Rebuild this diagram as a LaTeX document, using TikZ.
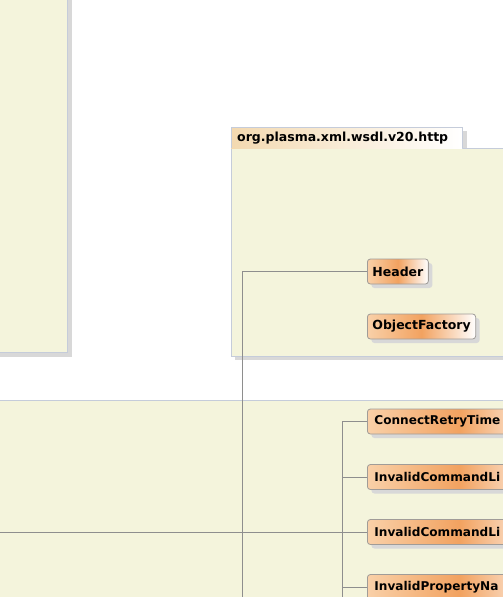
\documentclass[tikz,border=0pt]{standalone}
\usepackage{fontspec}
\setmainfont{DejaVu Sans}
\definecolor{cream}{HTML}{F4F4DC}
\definecolor{pkgborder}{HTML}{C5CCDA}
\definecolor{shadowgray}{HTML}{D8D8D8}
\definecolor{nodeborder}{HTML}{A09C98}
\definecolor{peach}{HTML}{F9D0A8}
\definecolor{orangemid}{HTML}{F2A260}
\definecolor{tabpeach}{HTML}{F3D9B0}
\definecolor{linegray}{HTML}{8E8E8E}
\tikzset{
  classbox/.style={draw=nodeborder, line width=0.8pt, rounded corners=3pt,
    left color=peach, right color=white, middle color=orangemid,
    font=\bfseries\fontsize{12.5}{14}\selectfont, anchor=west,
    minimum height=25pt, inner xsep=5pt, inner ysep=0pt,
    preaction={fill=shadowgray, transform canvas={shift={(4pt,-4pt)}}}},
  widebox/.style={classbox, text width=170pt, align=left, inner xsep=7pt,
    font=\bfseries\fontsize{12.1}{14}\selectfont},
  conn/.style={draw=linegray, line width=0.8pt},
}
\begin{document}
\begin{tikzpicture}[x=1pt,y=-1pt]
\useasboundingbox (0,0) rectangle (503,597);
\clip (0,0) rectangle (503,597);
% left top panel
\fill[shadowgray] (0,-5) rectangle (72,357);
\fill[cream] (-5,-5) rectangle (67,352);
\draw[pkgborder, line width=0.8pt] (67,-5) -- (67,352) -- (-5,352);
% package org.plasma.xml.wsdl.v20.http
\fill[shadowgray] (235,131) rectangle (467,152);
\fill[shadowgray] (235,152) rectangle (520,360);
\fill[cream] (231,148) rectangle (520,356);
\draw[pkgborder, line width=0.8pt] (520,148) -- (231,148) -- (231,356) -- (520,356);
\shade[left color=tabpeach, right color=white] (231,127) rectangle (462,148);
\draw[pkgborder, line width=0.8pt] (231,148) -- (231,127) -- (462,127) -- (462,148);
\node[font=\bfseries\fontsize{12.5}{14}\selectfont, anchor=west, inner sep=0pt] (pkgname) at (237,138) {org.plasma.xml.wsdl.v20.http};
% bottom panel
\fill[cream] (-5,400.5) rectangle (520,610);
\draw[pkgborder, line width=0.8pt] (-5,400.5) -- (520,400.5);
% classes
\node[classbox, minimum width=60pt] (header) at (367,271.5) {Header};
\node[classbox, minimum width=108pt] (objfactory) at (367,326.5) {ObjectFactory};
\node[widebox] (crt) at (367,421.5) {ConnectRetryTime};
\node[widebox] (icl1) at (367,477) {InvalidCommandLi};
\node[widebox] (icl2) at (367,532) {InvalidCommandLi};
\node[widebox] (ipn) at (367,587) {InvalidPropertyNa};
% connectors
\coordinate (hdrend) at (242,605);
\coordinate (leftend) at (-5,532);
\coordinate (trunkbot) at (342,605);
\draw[conn] (header.west) -| (hdrend);
\draw[conn] (crt.west) -| (trunkbot);
\draw[conn] (icl1.west) -- (icl1.west -| trunkbot);
\draw[conn] (leftend) -- (icl2.west);
\draw[conn] (ipn.west) -- (ipn.west -| trunkbot);
\end{tikzpicture}
\end{document}
